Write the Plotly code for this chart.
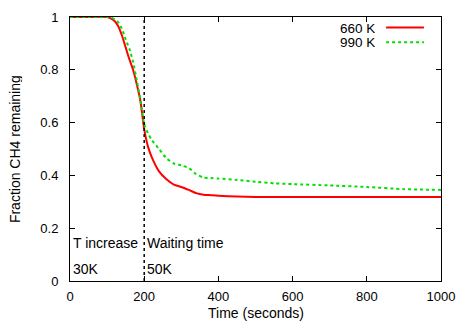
import plotly.graph_objects as go

# Data
t_sec = [0, 50, 100, 110, 120, 130, 140, 150, 160, 170, 180, 190, 200, 210, 220,
         240, 260, 280, 300, 320, 340, 360, 380, 400, 450, 500, 550, 600, 700, 800, 900, 1000]
frac_660K = [1.0, 1.0, 1.0, 0.995, 0.985, 0.965, 0.93, 0.885, 0.84, 0.80, 0.745, 0.68, 0.575, 0.51,
             0.47, 0.415, 0.385, 0.365, 0.356, 0.345, 0.333, 0.327, 0.325, 0.323, 0.32, 0.318,
             0.318, 0.318, 0.318, 0.318, 0.318, 0.318]
frac_990K = [1.0, 1.0, 1.0, 0.998, 0.992, 0.98, 0.955, 0.915, 0.88, 0.83, 0.76, 0.685, 0.595, 0.56,
             0.535, 0.50, 0.465, 0.445, 0.438, 0.428, 0.405, 0.392, 0.39, 0.388, 0.383, 0.376,
             0.37, 0.367, 0.362, 0.356, 0.348, 0.345]
series_names = ["660 K", "990 K"]
x_ticks = [0, 200, 400, 600, 800, 1000]
y_ticks = [0, 0.2, 0.4, 0.6, 0.8, 1]
y_tick_labels = ["0", "0.2", "0.4", "0.6", "0.8", "1"]
switch_time = 200

FONT = "Liberation Sans, Arial, sans-serif"
RED = "#ff0000"
GREEN = "#00e000"

fig = go.Figure()
fig.add_trace(go.Scatter(x=t_sec, y=frac_660K, mode="lines", name=series_names[0],
                         line=dict(color=RED, width=2, shape="spline", smoothing=0.6),
                         showlegend=False))
fig.add_trace(go.Scatter(x=t_sec, y=frac_990K, mode="lines", name=series_names[1],
                         line=dict(color=GREEN, width=2, dash="dot", shape="spline", smoothing=0.6),
                         showlegend=False))

# vertical dotted marker line
fig.add_shape(type="line", xref="x", yref="y", x0=switch_time, x1=switch_time, y0=0, y1=1,
              line=dict(color="black", width=1.5, dash="dot"))

# Custom legend (text right aligned, then line sample)
for i, (name, color, dash) in enumerate([(series_names[0], RED, "solid"),
                                          (series_names[1], GREEN, "dot")]):
    yy = 0.96 - i * 0.056
    fig.add_annotation(xref="paper", yref="paper", x=0.825, y=yy, text=name,
                       showarrow=False, xanchor="right", yanchor="middle",
                       height=12, borderpad=0,
                       font=dict(family=FONT, size=13.5, color="black"))
    fig.add_shape(type="line", xref="paper", yref="paper", x0=0.852, x1=0.954, y0=yy, y1=yy,
                  line=dict(color=color, width=2, dash=dash))

# Text annotations
for txt, xv, yv in [("T increase", 0, 0.145), ("Waiting time", switch_time, 0.145),
                    ("30K", 0, 0.045), ("50K", switch_time, 0.045)]:
    fig.add_annotation(x=xv, y=yv, xref="x", yref="y", text=txt, showarrow=False,
                       xanchor="left", yanchor="middle", xshift=1,
                       font=dict(family=FONT, size=14, color="black"))

axis_common = dict(showline=True, linecolor="black", linewidth=1, mirror="ticks",
                   ticks="inside", ticklen=5, tickcolor="black", showgrid=False,
                   zeroline=False, automargin=False,
                   tickfont=dict(family=FONT, size=13, color="black"))

fig.update_xaxes(range=[0, 1000], tickvals=x_ticks, ticklabelstandoff=3, **axis_common)
fig.update_yaxes(range=[0, 1], tickvals=y_ticks, ticktext=y_tick_labels, ticklabelstandoff=8,
                 **axis_common)

# Axis titles
fig.add_annotation(xref="paper", yref="paper", x=0.5, y=-0.123, yanchor="middle",
                   text="Time (seconds)", showarrow=False,
                   font=dict(family=FONT, size=14, color="black"))
fig.add_annotation(xref="paper", yref="paper", x=-0.148, y=0.5, xanchor="center",
                   text="Fraction CH4 remaining", showarrow=False, textangle=-90,
                   height=14, borderpad=0,
                   font=dict(family=FONT, size=14, color="black"))

# The page body has an 8px margin; size the figure so the plot area lands where the
# reference has it within the 467x327 window.
fig.update_layout(width=459, height=319, margin=dict(l=62, r=26, t=9, b=46),
                  plot_bgcolor="white", paper_bgcolor="white",
                  font=dict(family=FONT, size=13, color="black"))

fig.write_html("out.html")
